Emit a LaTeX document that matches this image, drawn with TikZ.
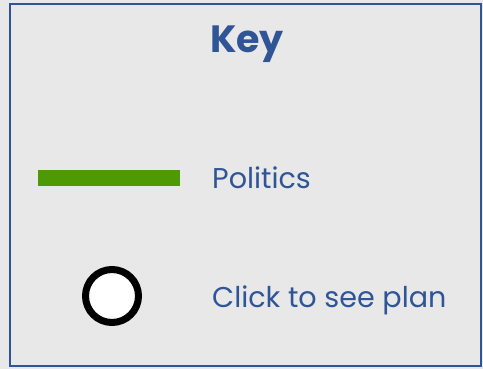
\documentclass[tikz,border=0pt]{standalone}
\usepackage{fontspec}
\setmainfont{Poppins}
\definecolor{bg}{HTML}{E8E8E8}
\definecolor{keyblue}{HTML}{2F5597}
\definecolor{pgreen}{HTML}{4E9A06}
\begin{document}
\begin{tikzpicture}[x=1pt,y=-1pt,
  label/.style={anchor=base west,inner sep=0pt,text=keyblue,font=\fontsize{28.6}{30}\selectfont}]
\fill[bg] (0,0) rectangle (483,369);
\useasboundingbox (0,0) rectangle (483,369);
\draw[keyblue,line width=2pt] (10,4) rectangle (480.5,365.5);
\node[anchor=base,inner sep=0pt,text=keyblue,font=\fontsize{38}{40}\selectfont\bfseries] (title) at (247,53) {Key};
\coordinate (ga) at (38,178);
\coordinate (gb) at (180,178);
\draw[pgreen,line width=16pt] (ga) -- (gb);
\node[label] (pol) at (212,189) {Politics};
\node[circle,draw=black,fill=white,line width=7pt,minimum size=53pt,inner sep=0pt] (circ) at (112,296) {};
\node[label] (plan) at (212,308) {Click to see plan};
\end{tikzpicture}
\end{document}
